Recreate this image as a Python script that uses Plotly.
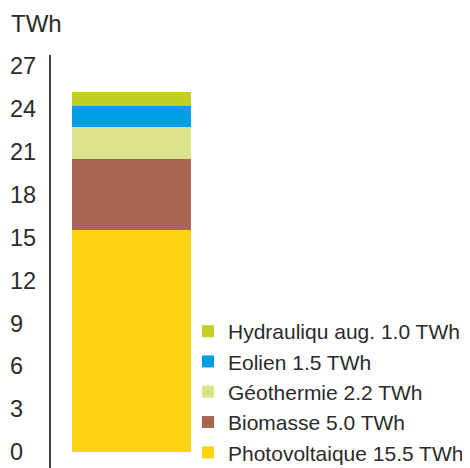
import plotly.graph_objects as go

categories = ["Total"]
sources = ["Photovoltaique", "Biomasse", "Géothermie", "Eolien", "Hydrauliqu aug."]
values = [15.5, 5.0, 2.2, 1.5, 1.0]
colors = ["#FDD20F", "#A86651", "#DDE38B", "#009FE3", "#C2CE24"]
tick_values = [0, 3, 6, 9, 12, 15, 18, 21, 24, 27]
unit = "TWh"

# page body has an 8px margin: figure sized to fill the rest of the window
W, H = 462, 460
T = 47            # top margin (axis line starts here)
PH = H - T        # plot height
font_family = "Liberation Sans, Arial, Helvetica, sans-serif"
text_color = "#2b2b2b"
y_range = [-1.12, 27.76]

fig = go.Figure()
for name, v, c in zip(sources, values, colors):
    fig.add_trace(go.Bar(
        x=categories, y=[v], name=f"{name} {v:.1f} {unit}",
        marker=dict(color=c, line=dict(width=0)),
        hoverinfo="skip",
    ))

# helper subplot that carries the left-aligned tick labels
fig.add_trace(go.Scatter(
    x=[0], y=[None], xaxis="x2", yaxis="y2", showlegend=False,
    hoverinfo="skip", mode="markers", marker=dict(opacity=0),
))

fig.update_layout(
    width=W, height=H,
    barmode="stack",
    bargap=0.2,
    margin=dict(l=0, r=0, t=T, b=0, autoexpand=False),
    plot_bgcolor="rgba(0,0,0,0)", paper_bgcolor="white",
    font=dict(family=font_family, color=text_color),
    xaxis=dict(
        domain=[43 / W, 1],
        range=[-0.541, 2.276],
        showticklabels=False, showgrid=False, zeroline=False,
        showline=False, ticks="", automargin=False,
    ),
    yaxis=dict(
        range=y_range,
        showline=True, linecolor="#444444", linewidth=1.5,
        showticklabels=False, showgrid=False, zeroline=False, ticks="",
        automargin=False,
    ),
    xaxis2=dict(
        domain=[0, 0.002], anchor="y2", visible=False, range=[0, 1],
    ),
    yaxis2=dict(
        anchor="x2", side="right",
        range=y_range,
        tickmode="array", tickvals=tick_values,
        ticktext=[str(t) for t in tick_values],
        tickfont=dict(size=23.5, color=text_color, family=font_family),
        ticklabeloverflow="allow",
        showline=False, showgrid=False, zeroline=False, ticks="",
        automargin=False,
    ),
    legend=dict(
        x=180 / W, xanchor="left",
        y=-5 / PH, yanchor="bottom",
        traceorder="reversed",
        font=dict(size=21, color=text_color, family=font_family),
        bgcolor="rgba(0,0,0,0)",
        itemclick=False,
    ),
    showlegend=True,
    annotations=[dict(
        text=unit, xref="paper", yref="paper",
        x=1 / W, xanchor="left", y=1 + (T - 16) / PH, yanchor="middle",
        showarrow=False, font=dict(size=24, color=text_color, family=font_family),
    )],
)

fig.write_html("out.html")
